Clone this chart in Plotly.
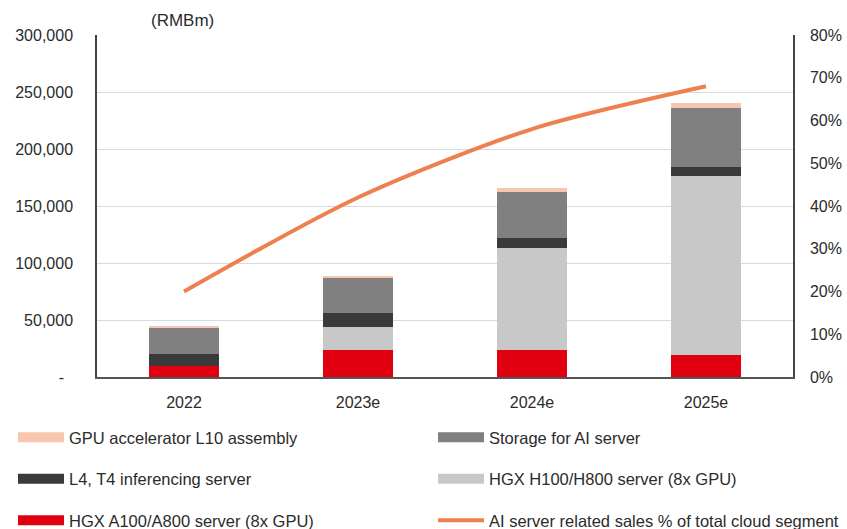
import plotly.graph_objects as go

categories = ["2022", "2023e", "2024e", "2025e"]

hgx_a100 = [10000, 24000, 24000, 19000]
hgx_h100 = [0, 20000, 89000, 157000]
l4_t4 = [10000, 12000, 9000, 8000]
storage = [23000, 31000, 40000, 52000]
gpu_l10 = [1000, 1500, 4000, 4000]
ai_share = [0.20, 0.42, 0.58, 0.68]

y_tickvals = [0, 50000, 100000, 150000, 200000, 250000, 300000]
y_ticktext = ["-\u00a0\u00a0", "50,000", "100,000", "150,000", "200,000", "250,000", "300,000"]

FONT = "Liberation Sans, Arial, sans-serif"
TXT = "#2B2B2B"
W, H = 847, 529

series = [
    ("HGX A100/A800 server (8x GPU)", hgx_a100, "#E0000F", "legend", 3),
    ("HGX H100/H800 server (8x GPU)", hgx_h100, "#C8C8C8", "legend2", 2),
    ("L4, T4 inferencing server", l4_t4, "#3A3A3A", "legend", 2),
    ("Storage for AI server", storage, "#808080", "legend2", 1),
    ("GPU accelerator L10 assembly", gpu_l10, "#F7C6AE", "legend", 1),
]

fig = go.Figure()
for name, vals, color, lg, rank in series:
    fig.add_trace(go.Bar(
        x=categories, y=vals, name=name, marker=dict(color=color, line=dict(width=0)),
        width=0.4, legendgroup=name, showlegend=False,
    ))
    fig.add_trace(go.Scatter(
        x=[None], y=[None], mode="lines", name=name, legendgroup=name,
        line=dict(color=color, width=10), legend=lg, legendrank=rank,
    ))

line_name = "AI server related sales % of total cloud segment"
fig.add_trace(go.Scatter(
    x=categories, y=ai_share, yaxis="y2", mode="lines", name=line_name,
    line=dict(color="#EE8050", width=4, shape="spline", smoothing=0.8),
    legend="legend2", legendrank=3, legendgroup=line_name,
))

leg_common = dict(
    orientation="v", xref="container", yref="container",
    xanchor="left", yanchor="top",
    font=dict(family=FONT, size=16.5, color=TXT), itemwidth=46,
    tracegroupgap=17, bgcolor="rgba(0,0,0,0)", traceorder="grouped",
)

fig.update_layout(
    width=W, height=H,
    margin=dict(l=97, r=54, t=35, b=152, autoexpand=False),
    paper_bgcolor="white", plot_bgcolor="white",
    barmode="stack",
    font=dict(family=FONT, size=16, color=TXT),
    xaxis=dict(
        type="category", showline=True, linecolor="#555555", linewidth=1.5,
        ticks="", tickfont=dict(size=16, color=TXT), ticklabelstandoff=10,
        showgrid=False,
    ),
    yaxis=dict(
        range=[0, 300000], tickvals=y_tickvals, ticktext=y_ticktext,
        showline=True, linecolor="#444444", linewidth=1.5,
        showgrid=True, gridcolor="#DADADA", gridwidth=1,
        ticks="", ticklabelstandoff=19, tickfont=dict(size=16, color=TXT),
        zeroline=False,
    ),
    yaxis2=dict(
        range=[0, 0.8], dtick=0.1, tickformat=".0%", overlaying="y", side="right",
        showline=True, linecolor="#444444", linewidth=1.5, showgrid=False,
        ticks="", ticklabelstandoff=12, tickfont=dict(size=16, color=TXT),
        zeroline=False,
    ),
    legend=dict(x=13 / W, y=1 - 420 / H, **leg_common),
    legend2=dict(x=433 / W, y=1 - 420 / H, **leg_common),
    annotations=[dict(
        text="(RMBm)", xref="paper", yref="paper", x=(182 - 97) / 696, y=(377 - 20) / 342,
        xanchor="center", yanchor="middle",
        showarrow=False, font=dict(family=FONT, size=17, color=TXT),
    )],
)

fig.write_html(
    "out.html",
    config={"displayModeBar": False},
    post_script="document.body.style.margin='0px';",
)
